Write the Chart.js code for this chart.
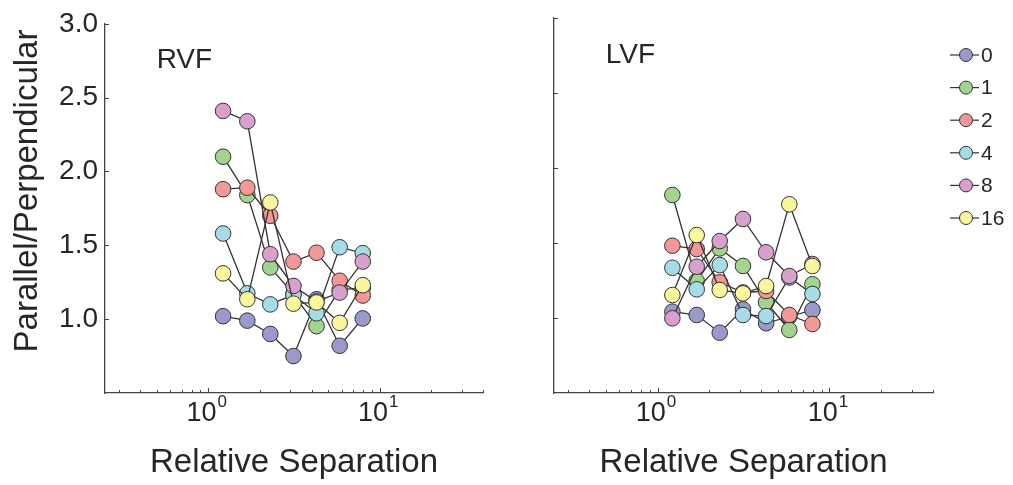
<!DOCTYPE html>
<html>
<head>
<meta charset="utf-8">
<script src="https://cdn.jsdelivr.net/npm/chart.js"></script>
<style>
  body { margin: 0; background: #fff; }
  .panel { position: absolute; top: 0; height: 485px; }
  #left { left: 0; width: 505px; }
  #right { left: 505px; width: 508px; }
</style>
</head>
<body>
<div class="panel" id="left"><canvas id="chartRVF"></canvas></div>
<div class="panel" id="right"><canvas id="chartLVF"></canvas></div>
<script>
// relative separation (x, log scale)
const separation = [1.22, 1.69, 2.3, 3.14, 4.28, 5.84, 7.96];

const seriesNames = ["0", "1", "2", "4", "8", "16"];
const seriesColors = ["#9999cc", "#a3d48f", "#f39797", "#a6dce8", "#d9a0cd", "#fbf59b"];

// RVF panel
const rvf0 = [1.02, 0.99, 0.90, 0.75, 1.135, 0.82, 1.005];
const rvf1 = [2.10, 1.84, 1.35, 1.17, 0.953, 1.20, 1.21];
const rvf2 = [1.88, 1.89, 1.70, 1.39, 1.45, 1.26, 1.16];
const rvf4 = [1.58, 1.175, 1.10, 1.165, 1.04, 1.487, 1.447];
const rvf8 = [2.41, 2.34, 1.44, 1.225, 1.12, 1.18, 1.39];
const rvf16 = [1.31, 1.135, 1.79, 1.105, 1.113, 0.975, 1.23];

// LVF panel
const lvf0 = [1.042, 1.02, 0.902, 1.058, 0.965, 1.01, 1.053];
const lvf1 = [1.82, 1.247, 1.464, 1.347, 1.105, 0.92, 1.225];
const lvf2 = [1.482, 1.46, 1.238, 1.17, 1.18, 1.02, 0.96];
const lvf4 = [1.335, 1.191, 1.353, 1.02, 1.013, 1.27, 1.16];
const lvf8 = [0.998, 1.342, 1.513, 1.66, 1.438, 1.28, 1.36];
const lvf16 = [1.153, 1.553, 1.187, 1.164, 1.213, 1.758, 1.347];

const yTicks = [1.0, 1.5, 2.0, 2.5, 3.0];
const xTickExponents = [0, 1];

const textColor = "#262626";
const axisColor = "#444";
const fontFamily = "'Liberation Sans', Arial, sans-serif";

function makeDatasets(seriesValues) {
  return seriesValues.map((vals, i) => ({
    label: seriesNames[i],
    data: vals.map((v, j) => ({ x: separation[j], y: v })),
    borderColor: "#333",
    borderWidth: 1.3,
    pointRadius: 7.8,
    pointBorderWidth: 1,
    pointBorderColor: "#333",
    pointBackgroundColor: seriesColors[i],
    backgroundColor: seriesColors[i],
    order: seriesValues.length - i, // later series on top
  }));
}

// axes decoration: inward ticks, 10^n labels, titles, panel label, legend
const axisStyle = {
  id: "axisStyle",
  afterDraw(chart, args, opts) {
    const ctx = chart.ctx;
    const x = chart.scales.x;
    const y = chart.scales.y;
    const area = chart.chartArea;
    ctx.save();

    ctx.strokeStyle = axisColor;
    ctx.lineWidth = 1;
    ctx.beginPath();
    yTicks.forEach(v => {
      const py = Math.round(y.getPixelForValue(v)) + 0.5;
      ctx.moveTo(area.left, py);
      ctx.lineTo(area.left + 4, py);
    });
    for (let e = -1; e <= 1; e++) {
      for (let m = 1; m <= 9; m++) {
        const v = m * Math.pow(10, e);
        if (v < x.min || v > x.max) continue;
        const px = Math.round(x.getPixelForValue(v)) + 0.5;
        ctx.moveTo(px, area.bottom);
        ctx.lineTo(px, area.bottom - (m === 1 ? 5 : 3));
      }
    }
    ctx.stroke();

    ctx.fillStyle = textColor;
    ctx.textBaseline = "alphabetic";
    ctx.textAlign = "left";
    xTickExponents.forEach(e => {
      const px = x.getPixelForValue(Math.pow(10, e));
      ctx.font = "27px " + fontFamily;
      const w = ctx.measureText("10").width;
      ctx.font = "17px " + fontFamily;
      const ws = ctx.measureText(String(e)).width;
      const left = px - 2 - (w + ws) / 2;
      ctx.font = "27px " + fontFamily;
      ctx.fillText("10", left, 421);
      ctx.font = "17px " + fontFamily;
      ctx.fillText(String(e), left + w + 1, 407);
    });

    ctx.font = "33px " + fontFamily;
    ctx.textAlign = "center";
    ctx.fillText("Relative Separation", (area.left + area.right) / 2, 472);

    if (opts.yTitle) {
      ctx.save();
      ctx.translate(37, 191);
      ctx.rotate(-Math.PI / 2);
      ctx.fillText(opts.yTitle, 0, 0);
      ctx.restore();
    }

    ctx.font = "28px " + fontFamily;
    ctx.textAlign = "left";
    ctx.textBaseline = "middle";
    ctx.fillText(opts.label, x.getPixelForValue(0.5), y.getPixelForValue(2.75));

    if (opts.legendX) {
      ctx.font = "21px " + fontFamily;
      seriesNames.forEach((name, i) => {
        const ly = 55 + 32.6 * i;
        ctx.strokeStyle = "#333";
        ctx.lineWidth = 1.2;
        ctx.beginPath();
        ctx.moveTo(opts.legendX - 16, ly);
        ctx.lineTo(opts.legendX + 13, ly);
        ctx.stroke();
        ctx.beginPath();
        ctx.arc(opts.legendX, ly, 6.5, 0, Math.PI * 2);
        ctx.fillStyle = seriesColors[i];
        ctx.fill();
        ctx.lineWidth = 1;
        ctx.stroke();
        ctx.fillStyle = textColor;
        ctx.fillText(name, opts.legendX + 15, ly + 1);
      });
    }
    ctx.restore();
  },
};

function makeOptions(yAxisWidth, padRight, showYLabels, pluginOpts) {
  return {
    responsive: true,
    maintainAspectRatio: false,
    animation: false,
    layout: { padding: { top: 18, right: padRight, left: 0, bottom: 0 } },
    plugins: {
      legend: { display: false },
      tooltip: { enabled: false },
      axisStyle: pluginOpts,
    },
    scales: {
      x: {
        type: "logarithmic",
        min: 0.25,
        max: 40,
        grid: { display: false },
        border: { display: true, color: axisColor, width: 1.3 },
        ticks: { display: false },
        afterFit: s => { s.height = 92; },
      },
      y: {
        type: "linear",
        min: 0.5,
        max: 3.0,
        grid: { display: false, drawTicks: false },
        border: { display: true, color: axisColor, width: 1.3 },
        afterBuildTicks: s => { s.ticks = yTicks.map(v => ({ value: v })); },
        ticks: {
          display: showYLabels,
          padding: 7,
          color: textColor,
          font: { family: fontFamily, size: 28 },
          callback: v => v.toFixed(1),
        },
        afterFit: s => { s.width = yAxisWidth; },
      },
    },
  };
}

// Chart RVF
const chartRVF = document.getElementById("chartRVF");
new Chart(chartRVF, {
  type: "line",
  data: { datasets: makeDatasets([rvf0, rvf1, rvf2, rvf4, rvf8, rvf16]) },
  options: makeOptions(105, 22, true, { label: "RVF", yTitle: "Parallel/Perpendicular" }),
  plugins: [axisStyle],
});

// Chart LVF
const chartLVF = document.getElementById("chartLVF");
new Chart(chartLVF, {
  type: "line",
  data: { datasets: makeDatasets([lvf0, lvf1, lvf2, lvf4, lvf8, lvf16]) },
  options: makeOptions(49, 80, false, { label: "LVF", legendX: 461 }),
  plugins: [axisStyle],
});
</script>
</body>
</html>
